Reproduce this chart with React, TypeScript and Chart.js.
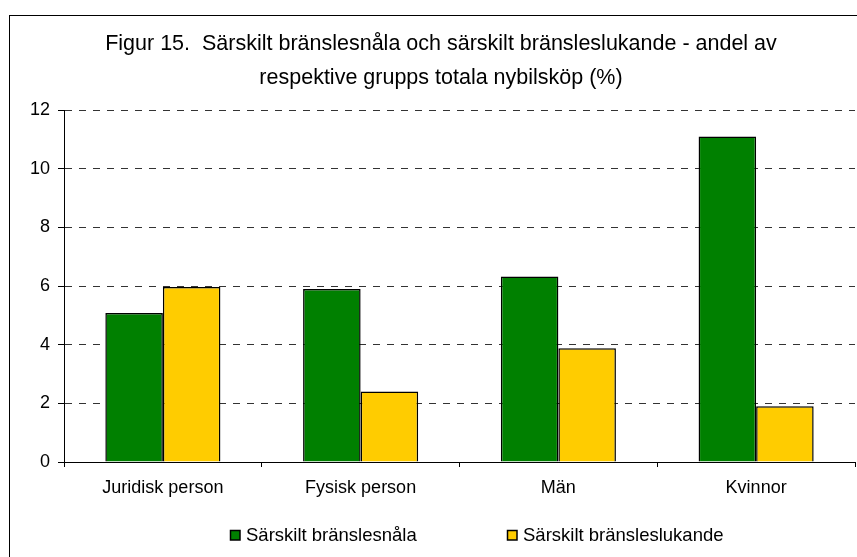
import React, { useEffect, useRef } from "react";
import { Chart, registerables } from "chart.js";

Chart.register(...registerables);

const categories = ["Juridisk person", "Fysisk person", "Män", "Kvinnor"];
const seriesNames = ["Särskilt bränslesnåla", "Särskilt bränsleslukande"];
const snala = [5.08, 5.9, 6.32, 11.1];
const slukande = [5.97, 2.4, 3.88, 1.9];
const yMin = 0;
const yMax = 12;
const yStep = 2;
const titleLines = [
  "Figur 15.  Särskilt bränslesnåla och särskilt bränsleslukande - andel av",
  "respektive grupps totala nybilsköp (%)",
];
const seriesColors = ["#008000", "#FFCC00"];

const FONT = "'Liberation Sans', Arial, sans-serif";

const decorPlugin = {
  id: "decor",
  beforeDraw(chart: any) {
    const ctx = chart.ctx;
    ctx.save();
    ctx.fillStyle = "#fff";
    ctx.fillRect(0, 0, chart.width, chart.height);
    ctx.restore();
  },
  afterDraw(chart: any) {
    const ctx = chart.ctx;
    ctx.save();
    // outer frame
    ctx.strokeStyle = "#000";
    ctx.lineWidth = 1;
    ctx.strokeRect(9.5, 15.5, chart.width + 20, chart.height + 20);
    // title
    ctx.fillStyle = "#000";
    ctx.font = `21.5px ${FONT}`;
    ctx.textAlign = "center";
    ctx.textBaseline = "alphabetic";
    const tx = 441;
    ctx.fillText(titleLines[0], tx, 50);
    ctx.fillText(titleLines[1], tx, 84);
    // legend
    const itemX = [230, 507];
    ctx.font = `18.5px ${FONT}`;
    ctx.textAlign = "left";
    chart.data.datasets.forEach((ds: any, i: number) => {
      const x = itemX[i];
      ctx.fillStyle = ds.backgroundColor;
      ctx.fillRect(x, 530, 10, 10);
      ctx.strokeStyle = "#000";
      ctx.lineWidth = 1.5;
      ctx.strokeRect(x + 0.5, 530.5, 9.5, 9.5);
      ctx.fillStyle = "#000";
      ctx.fillText(ds.label, x + 16, 541);
    });
    ctx.restore();
  },
};

export default function App() {
  const ref = useRef<HTMLCanvasElement | null>(null);
  useEffect(() => {
    if (!ref.current) return;
    const chart = new Chart(ref.current, {
      type: "bar",
      data: {
        labels: categories,
        datasets: [
          {
            label: seriesNames[0],
            data: snala,
            backgroundColor: seriesColors[0],
            borderColor: "#000",
            borderWidth: 1.5,
            categoryPercentage: 0.582,
            barPercentage: 1,
          },
          {
            label: seriesNames[1],
            data: slukande,
            backgroundColor: seriesColors[1],
            borderColor: "#000",
            borderWidth: 1.5,
            categoryPercentage: 0.582,
            barPercentage: 1,
          },
        ],
      },
      options: {
        responsive: false,
        animation: false,
        devicePixelRatio: 1,
        layout: { padding: { left: 0, right: 2, top: 110, bottom: 0 } },
        plugins: {
          legend: { display: false },
          title: { display: false },
          tooltip: { enabled: false },
        },
        scales: {
          x: {
            grid: {
              offset: true,
              drawOnChartArea: false,
              tickLength: 5,
              color: "#000",
            },
            border: { color: "#000", width: 1 },
            ticks: {
              color: "#000",
              font: { family: FONT, size: 18 },
              padding: 10,
              maxRotation: 0,
            },
            afterFit: (s: any) => {
              s.height = 95;
            },
          },
          y: {
            min: yMin,
            max: yMax,
            ticks: {
              stepSize: yStep,
              color: "#000",
              font: { family: FONT, size: 18 },
              padding: 8,
            },
            grid: {
              color: "#333",
              tickColor: "#000",
              tickLength: 6,
              tickBorderDash: [],
            },
            border: { color: "#000", width: 1, dash: [7, 7] },
            afterFit: (s: any) => {
              s.width = 64;
            },
          },
        },
      },
      plugins: [decorPlugin],
    });
    return () => chart.destroy();
  }, []);
  return (
    <div style={{ position: "absolute", left: 0, top: 0, width: 857, height: 557 }}>
      <canvas ref={ref} width={857} height={557} />
    </div>
  );
}
